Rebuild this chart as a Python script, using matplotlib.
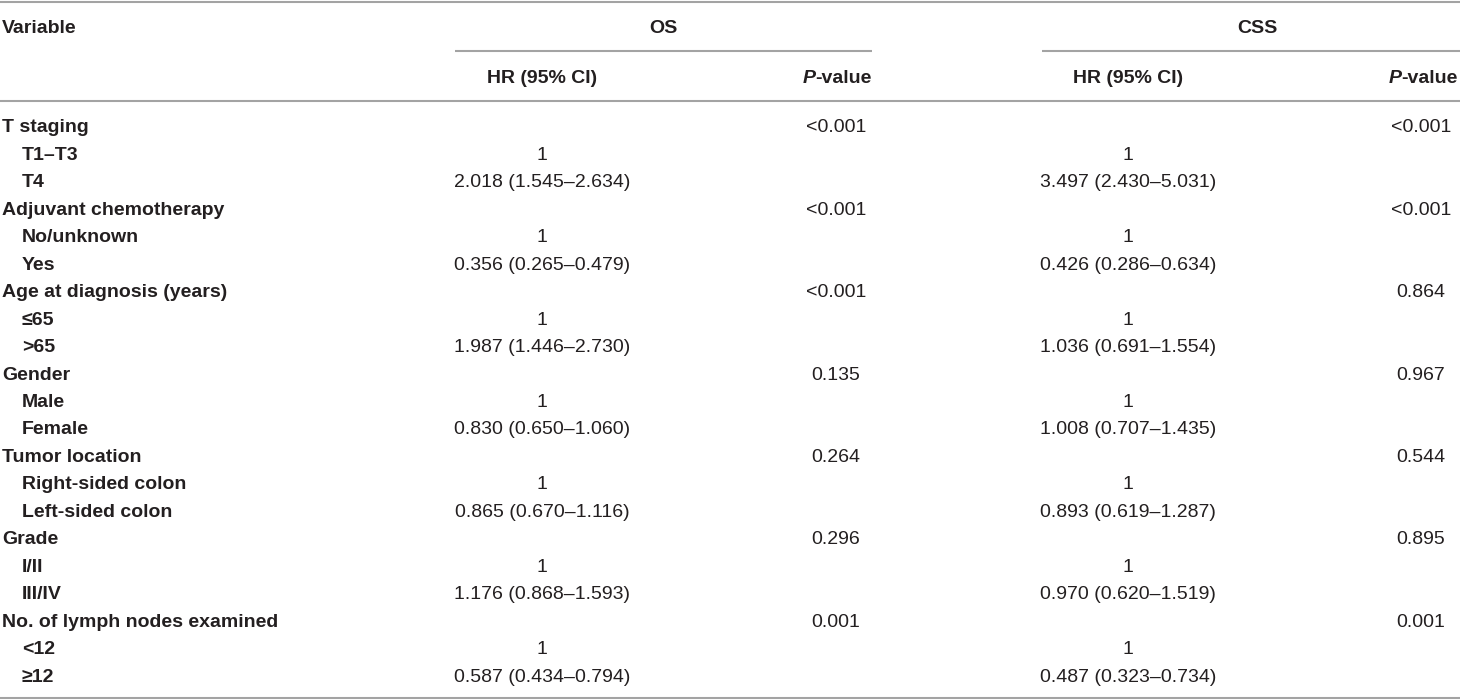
import matplotlib
matplotlib.use("Agg")
import matplotlib.pyplot as plt

# ---- data ----
groups = ["T staging", "Adjuvant chemotherapy", "Age at diagnosis (years)", "Gender",
          "Tumor location", "Grade", "No. of lymph nodes examined"]
subcats = [["T1–T3", "T4"], ["No/unknown", "Yes"], ["≤65", ">65"], ["Male", "Female"],
           ["Right-sided colon", "Left-sided colon"], ["I/II", "III/IV"], ["<12", "≥12"]]
os_hr = ["2.018 (1.545–2.634)", "0.356 (0.265–0.479)", "1.987 (1.446–2.730)",
         "0.830 (0.650–1.060)", "0.865 (0.670–1.116)", "1.176 (0.868–1.593)",
         "0.587 (0.434–0.794)"]
os_p = ["<0.001", "<0.001", "<0.001", "0.135", "0.264", "0.296", "0.001"]
css_hr = ["3.497 (2.430–5.031)", "0.426 (0.286–0.634)", "1.036 (0.691–1.554)",
          "1.008 (0.707–1.435)", "0.893 (0.619–1.287)", "0.970 (0.620–1.519)",
          "0.487 (0.323–0.734)"]
css_p = ["<0.001", "<0.001", "0.864", "0.967", "0.544", "0.895", "0.001"]
ref_label = "1"

# ---- layout ----
W, H = 1460, 700
fig = plt.figure(figsize=(W / 100, H / 100), dpi=100)
ax = fig.add_axes([0, 0, 1, 1])
ax.set_xlim(0, W)
ax.set_ylim(H, 0)
ax.axis("off")

FONT = "Liberation Sans"
FS = 14
TC = "#231f20"
LC = "#a3a3a3"
LW = 1.5

def txt(x, y, s, ha="left", bold=False, italic=False):
    return ax.text(x, y, s, ha=ha, va="baseline", fontsize=FS, family=FONT,
                   fontweight="bold" if bold else "normal",
                   fontstyle="italic" if italic else "normal", color=TC)

def hline(x0, x1, y):
    ax.plot([x0, x1], [y, y], color=LC, lw=LW, solid_capstyle="butt")

# rules
hline(0, W, 1.5)
hline(455, 872, 51)
hline(1042, W, 51)
hline(0, W, 101)
hline(0, W, 698)

# header
txt(2, 33, "Variable", bold=True)
txt(663, 33, "OS", ha="center", bold=True)
txt(1257, 33, "CSS", ha="center", bold=True)
txt(542, 83, "HR (95% CI)", ha="center", bold=True)
txt(1128, 83, "HR (95% CI)", ha="center", bold=True)

fig.canvas.draw()
renderer = fig.canvas.get_renderer()
for xr in (872, 1458):
    t = txt(xr, 83, "-value", ha="right", bold=True)
    bb = t.get_window_extent(renderer)
    txt(bb.x0, 83, "P", ha="right", bold=True, italic=True)

# body
base0 = 132.5
step = 27.45
row = 0
for g, subs, oh, op, ch, cp in zip(groups, subcats, os_hr, os_p, css_hr, css_p):
    y = base0 + step * row
    txt(2, y, g, bold=True)
    txt(836, y, op, ha="center")
    txt(1421, y, cp, ha="center")
    row += 1
    for k, s in enumerate(subs):
        y = base0 + step * row
        txt(22, y, s, bold=True)
        txt(542, y, ref_label if k == 0 else oh, ha="center")
        txt(1128, y, ref_label if k == 0 else ch, ha="center")
        row += 1

fig.savefig("out.png", dpi=100)
